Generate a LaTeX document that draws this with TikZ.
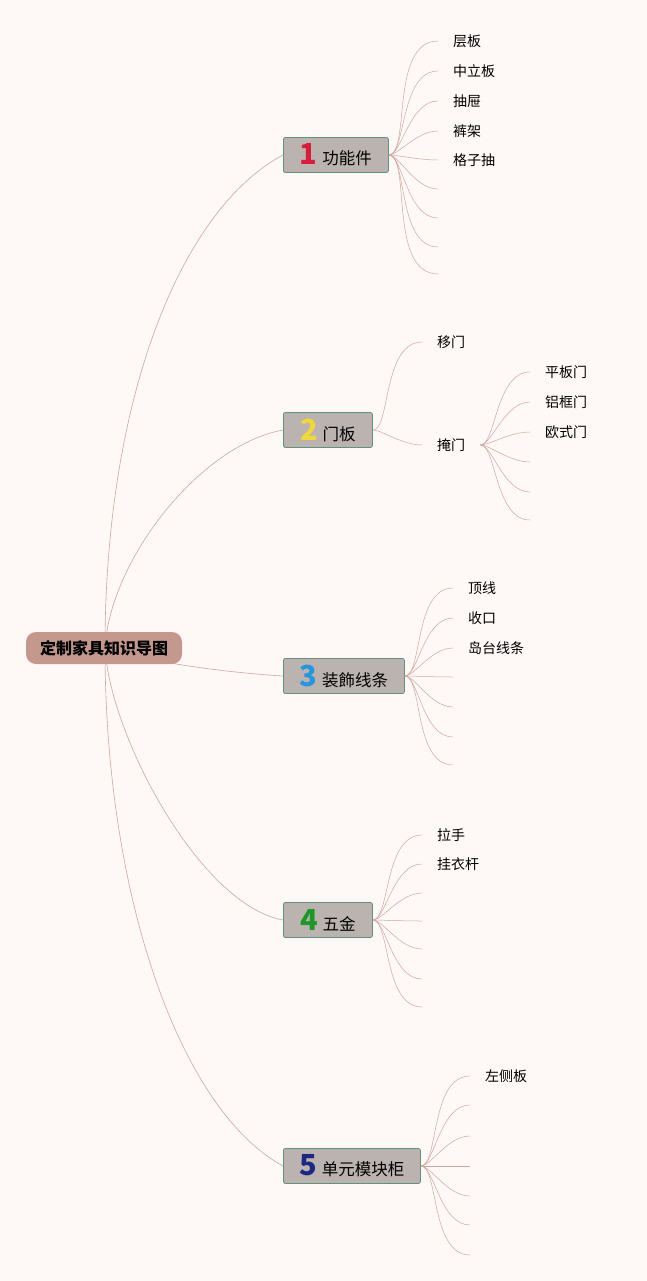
\documentclass[tikz,border=0pt]{standalone}
\usepackage{fontspec}
\usepackage{xcolor}
\newfontfamily\cjk{Noto Sans CJK SC}
\usetikzlibrary{positioning}
\definecolor{pagepink}{RGB}{254, 248, 247}
\definecolor{rootrose}{RGB}{196, 152, 140}
\definecolor{boxgray}{RGB}{187, 179, 176}
\definecolor{boxedge}{RGB}{100, 145, 125}
\definecolor{twigrose}{RGB}{206, 168, 158}
\definecolor{numred}{RGB}{214, 30, 60}
\definecolor{numyellow}{RGB}{240, 215, 60}
\definecolor{numblue}{RGB}{40, 150, 220}
\definecolor{numgreen}{RGB}{30, 150, 40}
\definecolor{numnavy}{RGB}{30, 40, 130}

\begin{document}
\begin{tikzpicture}[x=1pt, y=-1pt, every node/.style={font=\cjk}]
    % Styles
    \tikzstyle{rootbox} = [fill=rootrose, rounded corners=10pt, minimum width=156pt, minimum height=32pt, inner sep=0pt, font=\cjk\fontsize{16}{16}\selectfont\bfseries]
    \tikzstyle{topicbox} = [draw=boxedge, fill=boxgray, line width=0.8pt, rounded corners=1.5pt, minimum height=35pt, inner sep=0pt, anchor=west, font=\cjk\fontsize{16.5}{16}\selectfont]
    \tikzstyle{leaf} = [anchor=west, inner xsep=15pt, inner ysep=0pt, font=\cjk\fontsize{14}{14}\selectfont]
    \tikzstyle{branch} = [twigrose, line width=0.6pt]
    \tikzstyle{twig} = [twigrose, line width=0.5pt, out=0, in=180, out looseness=0.45]
    \newcommand{\num}[2]{{\color{#1}\fontsize{29}{29}\selectfont\bfseries #2}\hspace{5pt}}

    % Page
    \fill[pagepink] (0,0) rectangle (647,1281);
    \useasboundingbox (0,0) rectangle (647,1281);

    % Topics
    \coordinate (hub) at (105,648);
    \node[topicbox, minimum width=105pt] (fn) at (283,155) {\num{numred}{1}功能件};
    \node[topicbox, minimum width=89pt] (door) at (283,430) {\num{numyellow}{2}门板};
    \node[topicbox, minimum width=121pt] (trim) at (283,676) {\num{numblue}{3}装飾线条};
    \node[topicbox, minimum width=89pt] (metal) at (283,920) {\num{numgreen}{4}五金};
    \node[topicbox, minimum width=137pt] (unit) at (283,1166) {\num{numnavy}{5}单元模块柜};

    % Branches from the root (drawn before it, so they run behind)
    \draw[branch] (hub) .. controls (105,400) and (180,210) .. (fn.west);
    \draw[branch] (hub) .. controls (110,560) and (200,445) .. (door.west);
    \draw[branch] (hub) .. controls (150,662) and (220,672) .. (trim.west);
    \draw[branch] (hub) .. controls (110,736) and (200,905) .. (metal.west);
    \draw[branch] (hub) .. controls (105,896) and (180,1110) .. (unit.west);

    % Root
    \node[rootbox] (root) at (104,648) {定制家具知识导图};

    % 1 功能件
    \node[leaf] (fn1) at (438,41) {层板};
    \node[leaf] (fn2) at (438,71) {中立板};
    \node[leaf] (fn3) at (438,101) {抽屉};
    \node[leaf] (fn4) at (438,131) {裤架};
    \node[leaf] (fn5) at (438,160) {格子抽};
    \foreach \y [count=\i from 6] in {189,218,247,274}
        \coordinate (fn\i) at (438,\y);
    \foreach \i in {1,...,9}
        \draw[twig] (fn.east) to (fn\i.west);

    % 2 门板
    \node[leaf] (slide) at (422,342) {移门};
    \node[leaf] (swing) at (422,445) {掩门};
    \draw[twig] (door.east) to (slide.west);
    \draw[twig] (door.east) to (swing.west);
    \node[leaf] (sw1) at (530,372) {平板门};
    \node[leaf] (sw2) at (530,402) {铝框门};
    \node[leaf] (sw3) at (530,432) {欧式门};
    \foreach \y [count=\i from 4] in {462,492,520}
        \coordinate (sw\i) at (530,\y);
    \foreach \i in {1,...,6}
        \draw[twig] (swing.east) to (sw\i.west);

    % 3 装飾线条
    \node[leaf] (tr1) at (453,588) {顶线};
    \node[leaf] (tr2) at (453,618) {收口};
    \node[leaf] (tr3) at (453,648) {岛台线条};
    \foreach \y [count=\i from 4] in {677,707,737,765}
        \coordinate (tr\i) at (453,\y);
    \foreach \i in {1,...,7}
        \draw[twig] (trim.east) to (tr\i.west);

    % 4 五金
    \node[leaf] (mt1) at (422,835) {拉手};
    \node[leaf] (mt2) at (422,864) {挂衣杆};
    \foreach \y [count=\i from 3] in {893,921,949,979,1007}
        \coordinate (mt\i) at (422,\y);
    \foreach \i in {1,...,7}
        \draw[twig] (metal.east) to (mt\i.west);

    % 5 单元模块柜
    \node[leaf] (un1) at (470,1076) {左侧板};
    \foreach \y [count=\i from 2] in {1105,1136,1166,1196,1225,1255}
        \coordinate (un\i) at (470,\y);
    \foreach \i in {1,...,7}
        \draw[twig] (unit.east) to (un\i.west);
\end{tikzpicture}
\end{document}
